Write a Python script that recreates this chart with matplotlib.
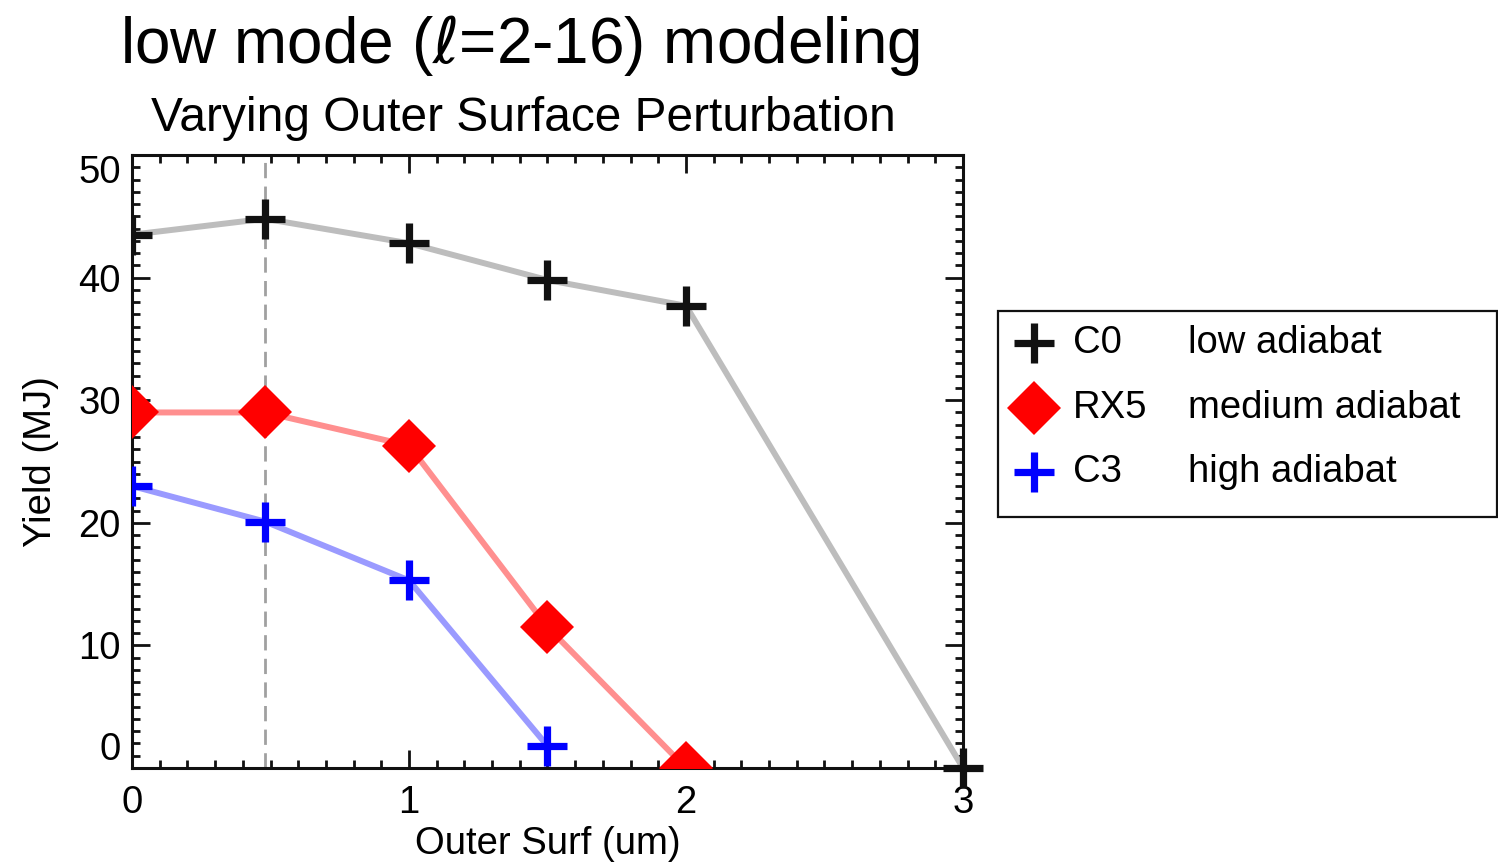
import matplotlib
matplotlib.use("Agg")
import matplotlib.pyplot as plt
from matplotlib.lines import Line2D
from matplotlib.patches import Rectangle
from matplotlib.ticker import MultipleLocator

plt.rcParams['font.family'] = ['Liberation Sans', 'DejaVu Sans']
plt.rcParams['mathtext.fontset'] = 'dejavusans'

# Outer surface perturbation amplitude (um)
surf_c0 = [0.0, 0.48, 1.0, 1.5, 2.0, 3.0]
surf_rx5 = [0.0, 0.48, 1.0, 1.5, 2.0]
surf_c3 = [0.0, 0.48, 1.0, 1.5]

# Yield (MJ)
yield_c0 = [43.5, 44.8, 42.8, 39.8, 37.7, 0.0]
yield_rx5 = [29.0, 29.0, 26.3, 11.5, 0.0]
yield_c3 = [23.0, 20.1, 15.3, 1.8]

names = ["C0", "RX5", "C3"]
descriptions = ["low adiabat", "medium adiabat", "high adiabat"]
xticks = [0, 1, 2, 3]
yticks = [0, 10, 20, 30, 40, 50]
ref_surf = 0.48

W, H = 1498, 864
fig = plt.figure(figsize=(W / 100, H / 100), dpi=100)
ax = fig.add_axes([132 / W, 1 - 768 / H, (963 - 132) / W, (768 - 155) / H])

ax.set_xlim(0, 3)
ax.set_ylim(0, 50)

ax.axvline(ref_surf, color='#a0a0a0', lw=2.0, ls=(0, (5.5, 3)), zorder=1)

plus_kw = dict(marker='+', ms=29, mew=5.2, ls='none')
diam_kw = dict(marker='D', ms=28, mew=0, ls='none')

ax.plot(surf_c0, yield_c0, color='#bdbdbd', lw=4.3, zorder=2)
ax.plot(surf_rx5, yield_rx5, color='#ff8f8f', lw=4.3, zorder=2)
ax.plot(surf_c3, yield_c3, color='#9a9aff', lw=4.3, zorder=2)

ax.plot(surf_c0[:-1], yield_c0[:-1], color='#111111', zorder=3, **plus_kw)
ax.plot(surf_c0[-1:], yield_c0[-1:], color='#111111', zorder=5, clip_on=False, **plus_kw)
ax.plot(surf_rx5, yield_rx5, color='#ff0000', zorder=3, **diam_kw)
ax.plot(surf_c3, yield_c3, color='#0000ff', zorder=3, **plus_kw)

for s in ax.spines.values():
    s.set_linewidth(2.2)
    s.set_color('#111111')

ax.set_xticks(xticks)
ax.set_yticks(yticks)
ax.xaxis.set_minor_locator(MultipleLocator(0.1))
ax.yaxis.set_minor_locator(MultipleLocator(1))
ax.tick_params(which='both', direction='in', top=True, right=True,
               width=2.0, color='#111111')
ax.tick_params(which='major', length=13, labelsize=27.5, pad=12)
ax.tick_params(which='minor', length=5.5)
ax.tick_params(axis='y', which='major', pad=8)

ylabels = ax.get_yticklabels()
ylabels[0].set_va('bottom')
ylabels[-1].set_va('top')

ax.set_xlabel("Outer Surf (um)", fontsize=27.5, labelpad=4)
ax.set_ylabel("Yield (MJ)", fontsize=27.5, labelpad=14)

fig.text(120 / W, 1 - 63 / H, r"low mode ($\ell$=2-16) modeling",
         fontsize=46, ha='left', va='baseline')
fig.text(523 / W, 1 - 131 / H, "Varying Outer Surface Perturbation",
         fontsize=34.5, ha='center', va='baseline')

# Legend box with marker, name and description columns
x0, y0, x1, y1 = 998, 311, 1497, 517
fig.add_artist(Rectangle((x0 / W, 1 - y1 / H), (x1 - x0) / W, (y1 - y0) / H,
                         transform=fig.transFigure, fill=False,
                         lw=1.6, edgecolor='#111111'))
leg_styles = [
    dict(color='#111111', marker='+', ms=29, mew=5.2),
    dict(color='#ff0000', marker='D', ms=28, mew=0),
    dict(color='#0000ff', marker='+', ms=29, mew=5.2),
]
rows = [343, 408, 472]
for name, desc, sty, yy in zip(names, descriptions, leg_styles, rows):
    fig.add_artist(Line2D([1034 / W], [1 - yy / H], transform=fig.transFigure,
                          ls='none', **sty))
    fig.text(1073 / W, 1 - yy / H, name, fontsize=27.5, ha='left', va='center')
    fig.text(1188 / W, 1 - yy / H, desc, fontsize=27.5, ha='left', va='center')

fig.savefig("out.png", dpi=100)
